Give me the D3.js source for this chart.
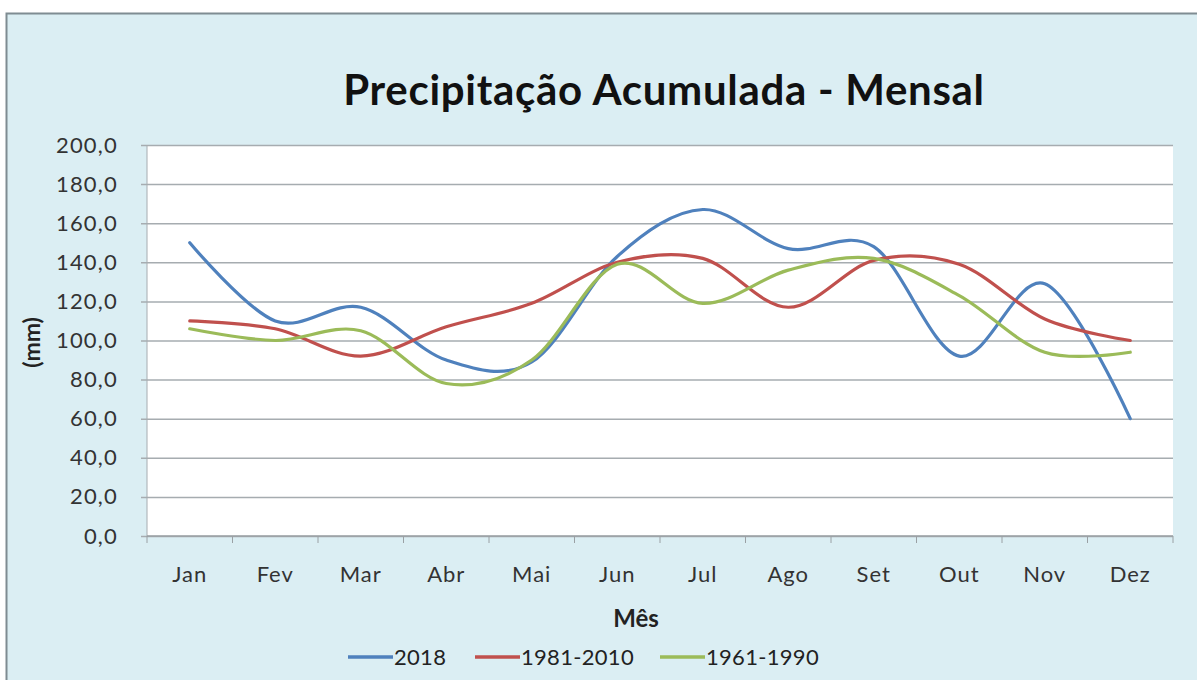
<html lang="pt">
<head>
<meta charset="utf-8">
<title>Precipitação Acumulada - Mensal</title>
<script src="https://d3js.org/d3.v7.min.js"></script>
<style>
  body { margin: 0; background: #fff; }
  text { font-family: Lato, "Open Sans", sans-serif; fill: #222; }
</style>
</head>
<body>
<svg id="chart"></svg>
<script>
'use strict';

var months = ['Jan', 'Fev', 'Mar', 'Abr', 'Mai', 'Jun', 'Jul', 'Ago', 'Set', 'Out', 'Nov', 'Dez'];
var serie2018 = [150, 110, 117, 90, 89, 143, 167, 147, 148, 92, 129, 60];
var serie1981 = [110, 106, 92, 107, 119, 140, 142, 117, 141, 139, 111, 100];
var serie1961 = [106, 100, 105, 78, 90, 139, 119, 136, 142, 123, 94, 94];
var seriesNames = ['2018', '1981-2010', '1961-1990'];
var yTicks = [0, 20, 40, 60, 80, 100, 120, 140, 160, 180, 200];

var colors = ['#4f81bd', '#c0504d', '#9bbb59'];
var allSeries = [serie2018, serie1981, serie1961];

var W = 1197, H = 680;
var plot = {left: 147, right: 1173, top: 145, bottom: 536};

var svg = d3.select('#chart').attr('width', W).attr('height', H);

// chart area
svg.append('rect')
    .attr('x', 6.5).attr('y', 13.5)
    .attr('width', W + 10).attr('height', H + 10)
    .attr('fill', '#dbeef3')
    .attr('stroke', '#7f8c92').attr('stroke-width', 2);

svg.append('rect')
    .attr('x', plot.left).attr('y', plot.top)
    .attr('width', plot.right - plot.left).attr('height', plot.bottom - plot.top)
    .attr('fill', '#ffffff');

var x = d3.scaleBand().domain(months).range([plot.left, plot.right]);
var y = d3.scaleLinear().domain([0, 200]).range([plot.bottom, plot.top]);

// gridlines + y axis
var yAxis = d3.axisLeft(y)
    .tickValues(yTicks)
    .tickSize(-(plot.right - plot.left) - 6)
    .tickPadding(10)
    .tickFormat(function (d) { return d3.format('.1f')(d).replace('.', ','); });

var gy = svg.append('g')
    .attr('transform', 'translate(' + plot.left + ',0)')
    .call(yAxis);
gy.select('.domain').remove();
gy.selectAll('.tick line')
    .attr('x1', -6)
    .attr('x2', plot.right - plot.left)
    .attr('stroke', '#a6acb0').attr('stroke-width', 1.5);
gy.selectAll('.tick text')
    .attr('x', -29)
    .style('font-size', '22px')
    .style('letter-spacing', '1.2px')
    .style('fill', '#333');

svg.append('line')
    .attr('x1', plot.left).attr('x2', plot.left)
    .attr('y1', plot.top).attr('y2', plot.bottom)
    .attr('stroke', '#a6acb0').attr('stroke-width', 1);

// x axis
var gx = svg.append('g')
    .attr('transform', 'translate(0,' + plot.bottom + ')');
gx.append('line')
    .attr('x1', plot.left).attr('x2', plot.right)
    .attr('stroke', '#9aa0a4').attr('stroke-width', 1.5);
gx.selectAll('.xtick')
    .data(months.concat(['end']))
    .enter().append('line')
    .attr('class', 'xtick')
    .attr('x1', function (d, i) { return plot.left + i * x.step(); })
    .attr('x2', function (d, i) { return plot.left + i * x.step(); })
    .attr('y1', 0).attr('y2', 7)
    .attr('stroke', '#9aa0a4');
gx.selectAll('.xlabel')
    .data(months)
    .enter().append('text')
    .attr('class', 'xlabel')
    .attr('x', function (d) { return x(d) + x.bandwidth() / 2; })
    .attr('y', 46)
    .attr('text-anchor', 'middle')
    .style('font-size', '22px')
    .style('letter-spacing', '1px')
    .style('fill', '#333')
    .text(function (d) { return d; });

// lines
var line = d3.line()
    .x(function (d, i) { return x(months[i]) + x.bandwidth() / 2; })
    .y(function (d) { return y(d); })
    .curve(d3.curveCatmullRom.alpha(0));

svg.selectAll('.serie')
    .data(allSeries)
    .enter().append('path')
    .attr('class', 'serie')
    .attr('d', line)
    .attr('fill', 'none')
    .attr('stroke', function (d, i) { return colors[i]; })
    .attr('stroke-width', 3.2)
    .attr('stroke-linecap', 'round');

// titles
svg.append('text')
    .attr('x', 664).attr('y', 105)
    .attr('text-anchor', 'middle')
    .style('font-size', '42px').style('font-weight', 'bold').style('fill', '#111')
    .style('letter-spacing', '0.7px')
    .text('Precipitação Acumulada - Mensal');

svg.append('text')
    .attr('transform', 'translate(40,' + ((plot.top + plot.bottom) / 2 + 2) + ') rotate(-90)')
    .attr('text-anchor', 'middle')
    .style('font-size', '23px').style('font-weight', 'bold').style('fill', '#222')
    .text('(mm)');

svg.append('text')
    .attr('x', 636).attr('y', 627)
    .attr('text-anchor', 'middle')
    .style('font-size', '24px').style('font-weight', 'bold').style('fill', '#222')
    .text('Mês');

// legend
var legendX = [348, 475, 660];
var legend = svg.selectAll('.legend')
    .data(seriesNames)
    .enter().append('g')
    .attr('class', 'legend')
    .attr('transform', function (d, i) { return 'translate(' + legendX[i] + ',657)'; });
legend.append('line')
    .attr('x1', 0).attr('x2', 45)
    .attr('stroke', function (d, i) { return colors[i]; })
    .attr('stroke-width', 3.5);
legend.append('text')
    .attr('x', 46).attr('y', 8)
    .style('font-size', '22px').style('letter-spacing', '0.3px').style('fill', '#222')
    .text(function (d) { return d; });
</script>
</body>
</html>
